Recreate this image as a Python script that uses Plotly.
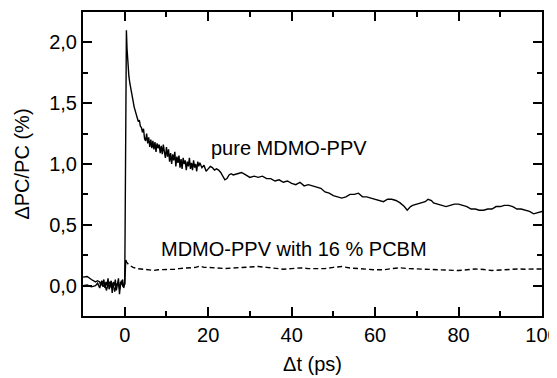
import plotly.graph_objects as go

# ---- data ----
pure_t = [-10, -9, -8, -7, -6.5, -6, -5.75, -5.5, -5.25, -5, -4.75, -4.5, -4.25, -4, -3.75,
          -3.5, -3.25, -3, -2.75, -2.5, -2.25, -2, -1.75, -1.5, -1.25, -1, -0.75, -0.5, -0.25, 0,
          0.1, 0.25, 0.4, 0.55, 0.7, 1.0, 1.25, 1.5, 1.75, 2.0, 2.25, 2.5, 2.75, 3.0, 3.25, 3.5,
          3.75, 4.0, 4.25, 4.5, 4.75, 5.0, 5.25, 5.5, 5.75, 6.0, 6.25, 6.5, 6.75, 7.0, 7.25, 7.5,
          7.75, 8.0, 8.25, 8.5, 8.75, 9.0, 9.25, 9.5, 9.75, 10.0, 10.25, 10.5, 10.75, 11.0, 11.25,
          11.5, 11.75, 12.0, 12.25, 12.5, 12.75, 13.0, 13.25, 13.5, 13.75, 14.0, 14.25, 14.5, 14.75,
          15.0, 15.25, 15.5, 15.75, 16.0, 16.25, 16.5, 16.75, 17.0, 17.25, 17.5, 17.75, 18.0, 18.5,
          19.0, 19.5, 20.0, 20.5, 21.0, 21.5, 22.0, 22.5, 23.0, 23.5, 24.0, 24.5, 25.0, 25.5, 26,
          27, 28, 29, 30, 31, 32, 33, 34, 35, 36, 37, 38, 39, 40, 41, 42, 43, 44, 45, 46, 47, 48,
          49, 50, 51, 52, 53, 54, 55, 56, 57, 58, 59, 60, 61, 62, 63, 64, 65, 66, 67, 67.7, 68.5,
          69, 70, 71, 72, 72.7, 73.5, 74, 75, 76, 77, 78, 79, 80, 81, 82, 83, 84, 85, 86, 87, 88,
          89, 90, 91, 92, 93, 94, 95, 96, 97, 98, 99, 100]
pure_v = [0.07, 0.075, 0.05, 0.03, 0.04, 0.03, 0.0, 0.04, 0.01, 0.05, -0.02, 0.03, 0.0, 0.06, -0.03,
          0.02, 0.04, -0.06, 0.03, 0.0, 0.05, -0.04, 0.02, 0.06, -0.07, 0.03, 0.01, 0.05, -0.02, 0.02,
          0.5, 1.6, 2.10, 1.95, 1.85, 1.72, 1.66, 1.60, 1.55, 1.52, 1.47, 1.44, 1.41, 1.40, 1.35, 1.36,
          1.31, 1.30, 1.26, 1.29, 1.21, 1.19, 1.25, 1.17, 1.22, 1.14, 1.20, 1.13, 1.19, 1.12, 1.18, 1.10,
          1.17, 1.13, 1.16, 1.09, 1.15, 1.08, 1.16, 1.10, 1.05, 1.14, 1.06, 1.12, 1.02, 1.09, 1.00,
          1.08, 1.03, 1.10, 0.98, 1.06, 1.01, 1.07, 0.97, 1.04, 0.96, 1.05, 1.00, 1.03, 0.95,
          1.02, 0.98, 1.05, 0.96, 1.01, 0.95, 1.03, 0.97, 1.00, 0.94, 1.02, 0.98, 1.01, 0.97,
          0.99, 0.94, 0.96, 0.98, 0.97, 0.95, 0.96, 0.95, 0.93, 0.90, 0.87, 0.88, 0.91, 0.92, 0.91,
          0.92, 0.93, 0.91, 0.89, 0.90, 0.89, 0.90, 0.88, 0.88, 0.86, 0.87, 0.85, 0.86, 0.84, 0.83, 0.85, 0.82, 0.83, 0.82, 0.81, 0.80, 0.77,
          0.76, 0.74, 0.73, 0.72, 0.73, 0.75, 0.75, 0.76, 0.73, 0.73, 0.72, 0.71, 0.70, 0.69, 0.71, 0.71, 0.70, 0.68, 0.65, 0.62, 0.65,
          0.66, 0.67, 0.68, 0.69, 0.71, 0.70, 0.68, 0.67, 0.66, 0.65, 0.66, 0.67, 0.67, 0.66, 0.65, 0.63, 0.63, 0.62, 0.62, 0.63, 0.63,
          0.65, 0.65, 0.66, 0.66, 0.65, 0.63, 0.63, 0.62, 0.61, 0.59, 0.60, 0.61]

pcbm_pre_t = [-10, -9, -8, -7, -6.5, -6, -5.6, -5.2, -4.8, -4.4, -4.0, -3.6, -3.2, -2.8, -2.4,
              -2.0, -1.6, -1.2, -0.8, -0.4, 0, 0.1, 0.25]
pcbm_pre_v = [0.0, 0.005, -0.01, 0.0, 0.02, -0.02, 0.03, -0.01, 0.02, -0.04, 0.01, 0.03, -0.02,
              0.02, -0.05, 0.01, 0.02, -0.03, 0.04, -0.01, 0.01, 0.1, 0.21]
pcbm_t = [0.25, 0.5, 1, 1.5, 2, 3, 4, 5, 6, 7, 8, 9, 10, 12, 13, 15, 17, 18, 19, 20, 22, 24, 26, 28,
          30, 32, 34, 36, 38, 40, 42, 44, 46, 48, 50, 52, 54, 56, 58, 60, 62, 64, 66, 68, 70, 72,
          74, 76, 78, 80, 82, 84, 86, 88, 90, 92, 94, 96, 98, 100]
pcbm_v = [0.21, 0.19, 0.17, 0.16, 0.15, 0.14, 0.135, 0.13, 0.13, 0.125, 0.13, 0.13, 0.13, 0.135,
          0.14, 0.145, 0.15, 0.16, 0.15, 0.15, 0.145, 0.14, 0.145, 0.15, 0.15, 0.157, 0.15, 0.14,
          0.135, 0.14, 0.146, 0.14, 0.137, 0.14, 0.15, 0.157, 0.145, 0.137, 0.135, 0.13, 0.13, 0.14,
          0.146, 0.14, 0.137, 0.135, 0.13, 0.13, 0.127, 0.124, 0.13, 0.137, 0.133, 0.124, 0.128,
          0.135, 0.137, 0.135, 0.137, 0.137]

x_ticks = [0, 20, 40, 60, 80, 100]
x_minor = [-10, 10, 30, 50, 70, 90]
y_ticks = [0.0, 0.5, 1.0, 1.5, 2.0]
y_labels = ["0,0", "0,5", "1,0", "1,5", "2,0"]
y_minor = [-0.25, 0.25, 0.75, 1.25, 1.75, 2.25]
label_pure = "pure MDMO-PPV"
label_pcbm = "MDMO-PPV with 16 % PCBM"

FONT = "Liberation Sans"
X_RANGE = [-10, 100]
Y_RANGE = [-0.25, 2.25]

fig = go.Figure()
fig.add_trace(go.Scatter(x=pure_t, y=pure_v, mode="lines",
                         line=dict(color="black", width=1.4), showlegend=False))
fig.add_trace(go.Scatter(x=pcbm_pre_t, y=pcbm_pre_v, mode="lines",
                         line=dict(color="black", width=1.4), showlegend=False))
fig.add_trace(go.Scatter(x=pcbm_t, y=pcbm_v, mode="lines",
                         line=dict(color="black", width=1.4, dash="5px,3px"), showlegend=False))

fig.add_annotation(x=20.3, y=1.13, text=label_pure, showarrow=False, xanchor="left",
                   yanchor="middle", font=dict(family=FONT, size=20, color="black"))
fig.add_annotation(x=8.1, y=0.30, text=label_pcbm, showarrow=False, xanchor="left",
                   yanchor="middle", font=dict(family=FONT, size=20, color="black"))

tickfont = dict(family=FONT, size=20, color="black")

fig.update_xaxes(range=X_RANGE, tickvals=x_ticks, showline=True, linecolor="black", linewidth=2,
                 mirror="ticks", ticks="inside", ticklen=9, tickwidth=2, tickcolor="black",
                 showgrid=False, zerolinecolor="rgba(0,0,0,0)", tickfont=tickfont,
                 ticklabeloverflow="allow",
                 minor=dict(tickvals=x_minor, ticks="inside", ticklen=5, tickwidth=2,
                            tickcolor="black", showgrid=False),
                 title=dict(text="Δt (ps)", font=tickfont, standoff=12))
fig.update_yaxes(range=Y_RANGE, tickvals=y_ticks, ticktext=y_labels, showline=True,
                 linecolor="black", linewidth=2, mirror="ticks", ticks="inside", ticklen=9,
                 tickwidth=2, tickcolor="black", showgrid=False, zerolinecolor="rgba(0,0,0,0)",
                 tickfont=tickfont,
                 minor=dict(tickvals=y_minor, ticks="inside", ticklen=5, tickwidth=2,
                            tickcolor="black", showgrid=False),
                 title=dict(text="ΔPC/PC (%)", font=tickfont, standoff=14))

fig.update_layout(template="none", width=549, height=370,
                  margin=dict(l=75, r=15, t=4, b=62),
                  plot_bgcolor="white", paper_bgcolor="white")

fig.write_html("out.html")
